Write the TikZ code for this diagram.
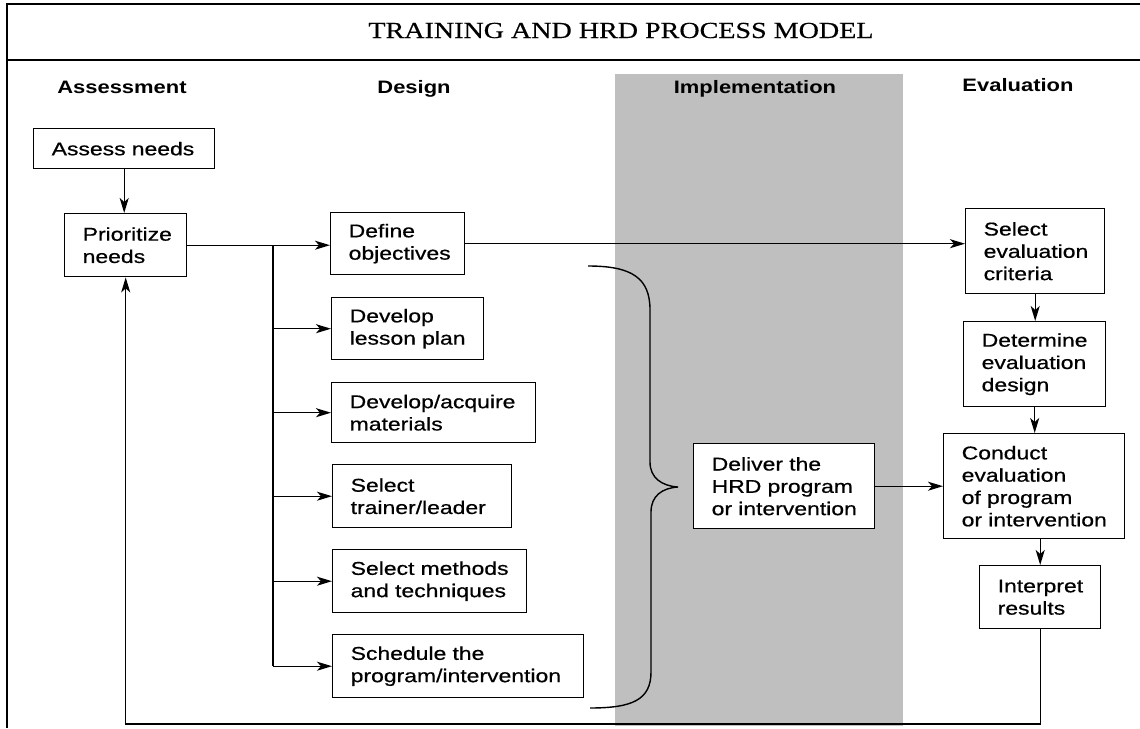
\documentclass[tikz,border=0pt]{standalone}
\usepackage{fontspec}
\newfontfamily\boxfont[FakeStretch=1.24,FakeBold=0.6]{Liberation Sans}
\newfontfamily\headfont[FakeStretch=1.22]{Liberation Sans}
\newfontfamily\titlefont[FakeStretch=1.22,FakeBold=0.4]{Liberation Serif}
\usetikzlibrary{arrows.meta}
\newcommand\myNoHyph{\hyphenpenalty=10000 \exhyphenpenalty=10000 \hbadness=10000 \hfuzz=20pt }
\begin{document}
\begin{tikzpicture}[x=1pt,y=-1pt,
  bx/.style={draw, line width=1.4pt, fill=white, anchor=north west, inner xsep=18pt, inner ysep=0pt, align=left,
    font=\boxfont\fontsize{18.5}{22.3}\selectfont, execute at begin node=\myNoHyph},
  conn/.style={line width=1.4pt},
  arr/.style={conn, -{Stealth[length=15pt,width=9pt,inset=4pt]}},
  head/.style={anchor=base, inner sep=0pt, font=\headfont\bfseries\fontsize{18}{21}\selectfont}]
\useasboundingbox (0,0) rectangle (1140,728);
\fill[white] (0,0) rectangle (1140,728);
\fill[black!25] (615,74) rectangle (903,726);
\draw[line width=1.4pt] (1140,4) -- (7,4) -- (7,728);
\draw[line width=2.6pt] (7,60) -- (1140,60);
\node[anchor=base, inner sep=0pt, font=\titlefont\fontsize{23}{27}\selectfont] (title) at (621,38) {TRAINING AND HRD PROCESS MODEL};
\node[head] (hA) at (122,93) {Assessment};
\node[head] (hD) at (414,93) {Design};
\node[head] (hI) at (755,93) {Implementation};
\node[head] (hE) at (1018,91) {Evaluation};
% boxes
\node[bx, text width=145pt, minimum height=40pt] (assess) at (33,128) {Assess~needs};
\node[bx, text width=86pt, minimum height=63pt] (prior) at (64,213) {Prioritize\\needs};
\node[bx, text width=98pt, minimum height=62pt] (defobj) at (330,212) {Define\\objectives};
\node[bx, text width=116pt, minimum height=62pt] (lesson) at (331,297) {Develop\\lesson~plan};
\node[bx, text width=168pt, minimum height=60pt] (materials) at (331,382) {Develop/acquire\\materials};
\node[bx, text width=143pt, minimum height=63pt] (trainer) at (332,464) {Select\\trainer/leader};
\node[bx, text width=158pt, minimum height=63pt] (methods) at (332,549) {Select~methods\\and~techniques};
\node[bx, text width=215pt, minimum height=63pt] (sched) at (332,634) {Schedule~the\\program/intervention};
\node[bx, text width=145pt, minimum height=85pt] (deliver) at (693,443) {Deliver~the\\HRD~program\\or~intervention};
\node[bx, text width=103pt, minimum height=85pt] (selcrit) at (965,208) {Select\\evaluation\\criteria};
\node[bx, text width=106pt, minimum height=85pt] (determine) at (963,321) {Determine\\evaluation\\design};
\node[bx, text width=145pt, minimum height=105pt] (conduct) at (943,433) {Conduct\\evaluation\\of~program\\or~intervention};
\node[bx, text width=85pt, minimum height=63pt] (interpret) at (979,565) {Interpret\\results};
% connectors
\draw[arr] (assess.south) -- (assess.south |- prior.north);
\draw[arr] (prior.east) -- (prior.east -| defobj.west);
\coordinate (tk) at (273,0);
\draw[conn] (tk |- prior.east) -- (tk |- sched.west);
\draw[arr] (tk |- lesson.west) -- (lesson.west);
\draw[arr] (tk |- materials.west) -- (materials.west);
\draw[arr] (tk |- trainer.west) -- (trainer.west);
\draw[arr] (tk |- methods.west) -- (methods.west);
\draw[arr] (tk |- sched.west) -- (sched.west);
\draw[arr] (defobj.east) -- (defobj.east -| selcrit.west);
\draw[arr] (deliver.east) -- (deliver.east -| conduct.west);
\draw[arr] (selcrit.south) -- (selcrit.south |- determine.north);
\draw[arr] (determine.south) -- (determine.south |- conduct.north);
\draw[arr] (interpret.north |- conduct.south) -- (interpret.north);
\coordinate (fb) at (0,724);
\draw[arr] (interpret.south) -- (interpret.south |- fb) -- (prior.south |- fb) -- (prior.south);
% brace
\draw[conn] (588,266) .. controls (632,266) and (650,278) .. (650,310) -- (650,462)
  .. controls (650,478) and (662,486) .. (678,487)
  .. controls (662,488) and (651,496) .. (651,512) -- (651,672)
  .. controls (651,700) and (632,708) .. (590,708);
\end{tikzpicture}
\end{document}
